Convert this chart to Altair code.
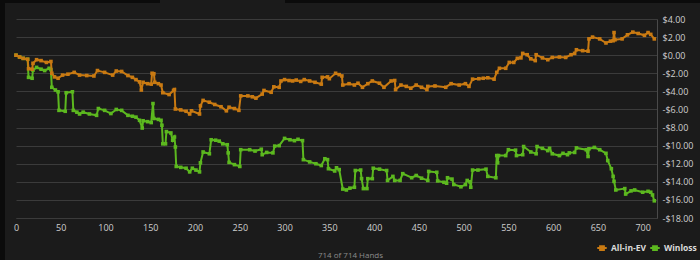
import altair as alt
import pandas as pd

# ---------------- data ----------------
series_names = ["All-in-EV", "Winloss"]
series_colors = ["#c97a12", "#5cb81f"]
x_ticks = list(range(0, 701, 50))
y_ticks = list(range(-18, 5, 2))
footer_text = "714 of 714 Hands"

ev_hand = [0, 4, 8, 13, 14, 18, 19, 23, 28, 34,
           39, 40, 43, 47, 52, 58, 65, 71, 79, 87,
           91, 99, 108, 112, 118, 125, 130, 134, 138, 140,
           142, 147, 151, 152, 154, 155, 159, 162, 164, 171,
           176, 177, 178, 184, 190, 194, 196, 205, 206, 209,
           216, 222, 229, 235, 238, 244, 249, 251, 259, 264,
           268, 275, 277, 285, 288, 294, 296, 300, 305, 309,
           313, 318, 322, 328, 334, 341, 342, 348, 350, 357,
           361, 364, 365, 372, 378, 382, 387, 393, 398, 406,
           411, 419, 423, 424, 430, 436, 441, 447, 453, 459,
           460, 468, 480, 486, 495, 502, 506, 510, 517, 522,
           527, 534, 537, 540, 547, 551, 556, 560, 564, 566,
           571, 575, 580, 581, 588, 594, 599, 607, 614, 620,
           624, 626, 633, 639, 640, 644, 652, 659, 664, 667,
           668, 669, 677, 683, 689, 695, 702, 706, 709, 713]
ev_value = [0.0, -0.2, -0.35, -0.45, -1.5, -1.55, -0.9, -0.5, -0.6, -0.8,
            -0.7, -2.0, -2.4, -2.55, -2.2, -2.1, -1.9, -2.2, -2.25, -2.3,
            -1.7, -1.9, -2.2, -1.75, -1.8, -2.25, -2.45, -2.7, -2.95, -3.85,
            -3.0, -3.15, -3.2, -2.0, -2.05, -3.0, -3.15, -3.3, -4.15, -4.35,
            -3.9, -3.8, -5.95, -6.05, -6.2, -6.5, -6.15, -6.5, -5.6, -5.0,
            -5.2, -5.45, -5.7, -6.15, -5.75, -5.9, -6.1, -4.5, -4.5, -4.6,
            -4.75, -4.3, -3.9, -4.1, -3.5, -3.55, -2.85, -2.7, -2.8, -2.85,
            -2.75, -2.9, -2.7, -2.85, -3.0, -3.2, -2.45, -2.4, -2.6, -2.0,
            -2.15, -2.3, -3.3, -3.15, -3.3, -3.1, -3.55, -3.15, -2.85, -3.1,
            -3.55, -2.85, -2.8, -3.8, -3.3, -3.45, -3.65, -3.3, -3.55, -3.8,
            -3.45, -3.4, -3.55, -3.15, -3.3, -3.15, -3.45, -2.65, -2.6, -2.55,
            -2.5, -2.65, -1.9, -1.45, -1.45, -0.8, -0.8, -0.35, -0.3, 0.2,
            0.05, -0.4, -0.6, 0.05, -0.3, -0.5, -0.25, -0.2, -0.25, 0.05,
            0.2, 0.6, 0.5, 0.45, 1.8, 2.0, 1.8, 1.35, 1.55, 1.6,
            2.5, 1.7, 1.8, 2.25, 2.55, 2.4, 2.2, 2.5, 2.3, 1.8]

wl_hand = [0, 4, 8, 13, 14, 18, 19, 23, 28, 32,
           37, 39, 40, 44, 47, 48, 55, 56, 63, 64,
           68, 71, 75, 82, 90, 92, 99, 106, 112, 118,
           125, 130, 134, 138, 141, 142, 147, 151, 153, 154,
           159, 162, 163, 164, 167, 168, 173, 175, 177, 178,
           179, 184, 190, 194, 197, 201, 205, 206, 209, 216,
           218, 223, 227, 231, 236, 237, 238, 244, 250, 251,
           261, 267, 274, 275, 280, 287, 289, 294, 300, 306,
           311, 315, 320, 321, 328, 335, 341, 345, 348, 349,
           356, 358, 361, 365, 369, 373, 378, 379, 385, 386,
           388, 392, 393, 398, 399, 406, 414, 415, 421, 423,
           429, 432, 442, 447, 453, 460, 461, 470, 471, 478,
           481, 482, 487, 489, 497, 502, 504, 507, 508, 510,
           516, 525, 527, 536, 537, 538, 539, 547, 550, 558,
           559, 566, 567, 575, 581, 582, 588, 594, 596, 599,
           607, 611, 616, 618, 624, 626, 637, 639, 640, 646,
           652, 659, 661, 665, 667, 668, 670, 680, 681, 687,
           691, 700, 706, 709, 711, 713]
wl_value = [0.0, -0.2, -0.35, -0.45, -2.45, -2.55, -1.65, -1.35, -1.55, -1.7,
            -1.45, -1.6, -3.55, -3.85, -4.05, -6.1, -6.2, -4.15, -4.05, -6.1,
            -6.3, -6.5, -6.3, -6.5, -6.65, -5.9, -6.1, -6.45, -6.0, -6.1,
            -6.65, -6.75, -6.85, -7.2, -8.05, -7.25, -7.35, -7.45, -5.35, -7.0,
            -7.1, -7.2, -7.75, -9.8, -9.8, -8.45, -8.6, -9.4, -9.05, -10.15,
            -12.3, -12.4, -12.5, -12.9, -12.5, -12.7, -12.9, -11.9, -10.7, -10.9,
            -9.35, -9.4, -9.5, -9.8, -9.9, -10.8, -11.85, -12.1, -12.3, -10.45,
            -10.45, -10.6, -10.4, -11.0, -10.75, -10.8, -10.05, -10.0, -9.2, -9.35,
            -9.45, -9.3, -9.45, -11.55, -11.8, -12.0, -12.2, -11.45, -11.55, -12.55,
            -12.8, -12.45, -12.65, -14.8, -14.9, -14.7, -14.6, -12.75, -12.7, -13.65,
            -14.75, -14.75, -13.65, -13.65, -12.5, -12.6, -12.75, -13.85, -13.4, -13.85,
            -13.85, -13.1, -13.55, -13.3, -13.6, -13.85, -12.85, -12.95, -13.9, -14.05,
            -14.15, -13.55, -13.7, -14.3, -14.55, -14.3, -13.85, -14.0, -14.6, -12.7,
            -12.7, -12.6, -13.4, -13.55, -11.1, -11.9, -11.1, -11.1, -10.45, -10.5,
            -11.1, -11.0, -10.1, -10.7, -10.9, -10.1, -10.3, -10.55, -10.3, -10.9,
            -11.1, -10.85, -11.0, -10.8, -10.75, -10.25, -10.45, -11.2, -10.35, -10.2,
            -10.45, -10.85, -11.65, -12.55, -13.4, -13.95, -14.9, -14.75, -15.35, -15.0,
            -14.9, -15.15, -15.05, -15.15, -15.45, -16.1]

df = pd.concat([
    pd.DataFrame({"hand": ev_hand, "value": ev_value, "series": series_names[0]}),
    pd.DataFrame({"hand": wl_hand, "value": wl_value, "series": series_names[1]}),
], ignore_index=True)

# ---------------- chart ----------------
FONT = "Open Sans"
GRID = "#3b3b3b"

color = alt.Color(
    "series:N",
    scale=alt.Scale(domain=series_names, range=series_colors),
    legend=alt.Legend(
        title=None, orient="none", direction="horizontal",
        legendX=580, legendY=223,
        symbolType="M-1,0H1M-0.4,-0.4H0.4V0.4H-0.4Z",
        symbolSize=90, symbolStrokeWidth=2, columnPadding=0,
        labelColor="#dcdcdc", labelFont=FONT, labelFontSize=8.5,
        labelFontWeight="bold", labelOffset=3, labelLimit=60,
    ),
)

x = alt.X("hand:Q", scale=alt.Scale(domain=[0, 716], nice=False, zero=False),
          axis=alt.Axis(values=x_ticks, title=None, grid=False, ticks=False,
                        domain=True, domainColor=GRID, labelPadding=5,
                        labelColor="#cfcfcf", labelFont=FONT, labelFontSize=9,
                        labelFlush=False))
y = alt.Y("value:Q", scale=alt.Scale(domain=[-18, 4], nice=False, zero=False),
          axis=alt.Axis(orient="right", values=y_ticks, title=None, grid=True,
                        gridColor=GRID, gridWidth=1, ticks=False,
                        domain=True, domainColor="#4a4a4a", labelPadding=5,
                        labelColor="#cfcfcf", labelFont=FONT, labelFontSize=9,
                        labelAlign="left",
                        labelExpr="(datum.value < 0 ? '-' : '') + '$' + format(abs(datum.value), '.2f')"))

base = alt.Chart(df).encode(x=x, y=y, color=color, order="hand:Q")

def series_layers(name):
    sub = base.transform_filter(alt.datum.series == name)
    line = sub.mark_line(strokeWidth=2.0, interpolate="linear")
    pts = sub.mark_point(filled=True, shape="square", size=13, opacity=1)
    return [line, pts]

deco = alt.Chart(alt.Data(values=[{}]))
left_strip = deco.mark_rect(color="#0b0b0b").encode(
    x=alt.value(-16), x2=alt.value(-11), y=alt.value(-19), y2=alt.value(241))
top_a = deco.mark_rect(color="#0b0b0b").encode(
    x=alt.value(-16), x2=alt.value(144), y=alt.value(-19), y2=alt.value(-16))
top_b = deco.mark_rect(color="#0b0b0b").encode(
    x=alt.value(269), x2=alt.value(684), y=alt.value(-19), y2=alt.value(-16))

chart = alt.layer(
    left_strip, top_a, top_b,
    *series_layers("Winloss"),
    *series_layers("All-in-EV"),
).properties(
    width=641, height=199,
    autosize=alt.AutoSizeParams(type="none"),
    padding={"left": 16, "top": 19, "right": 43, "bottom": 42},
    background="#1b1b1b",
    title=alt.TitleParams(footer_text, orient="bottom", anchor="middle",
                          color="#8c8c8c", font=FONT, fontSize=8,
                          fontWeight="normal", offset=2, dy=-6, dx=14,
                          baseline="middle"),
).configure_view(stroke=None)

chart.save("out.html", embed_options={"renderer": "svg", "actions": False})
